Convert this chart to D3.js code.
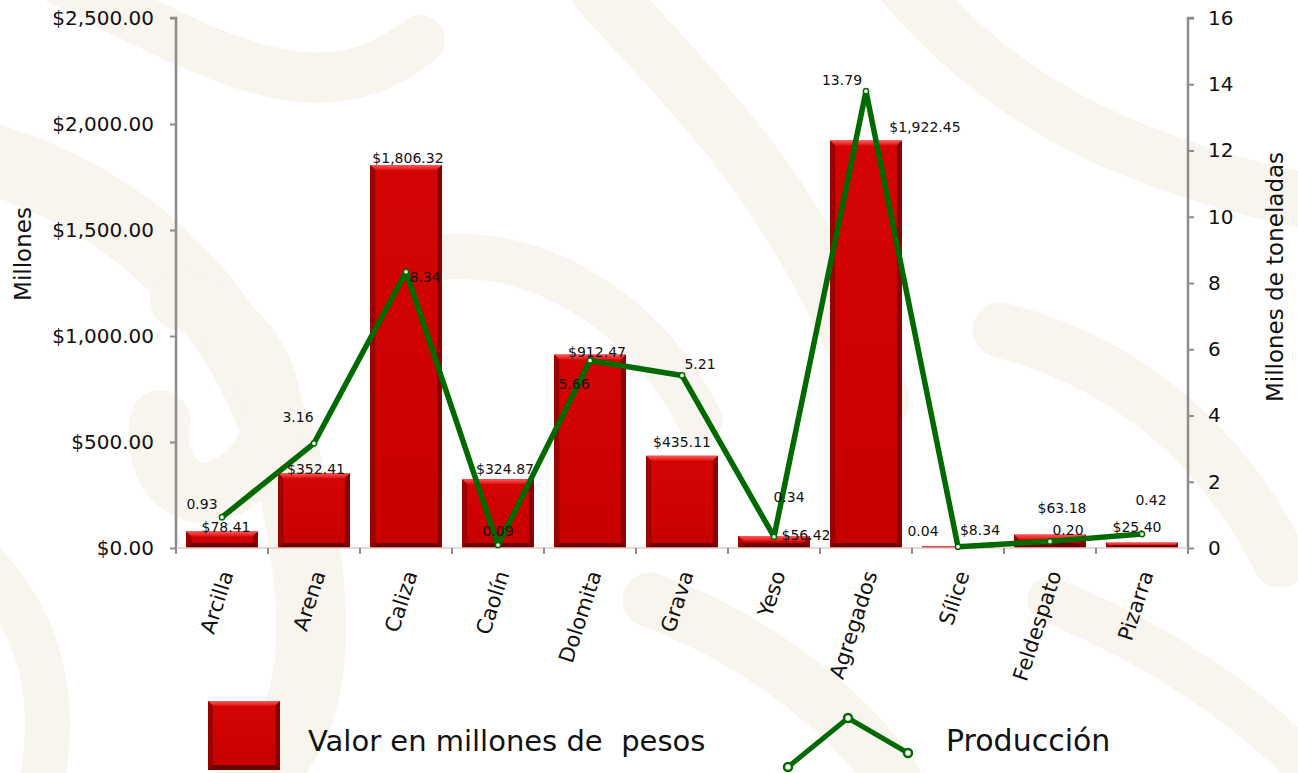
<!DOCTYPE html>
<html lang="es">
<head>
<meta charset="UTF-8">
<title>Valor y producción</title>
<style>
  * { margin: 0; padding: 0; }
  body { background: #fff; font-family: "DejaVu Sans", sans-serif; }
</style>
</head>
<body>
<div id="chart"></div>
<script src="https://cdn.jsdelivr.net/npm/d3@7"></script>
<script>
// datos
const categorias = ['Arcilla', 'Arena', 'Caliza', 'Caolín', 'Dolomita', 'Grava', 'Yeso', 'Agregados', 'Sílice', 'Feldespato', 'Pizarra']
const valor = [78.41, 352.41, 1806.32, 324.87, 912.47, 435.11, 56.42, 1922.45, 8.34, 63.18, 25.40]
const produccion = [0.93, 3.16, 8.34, 0.09, 5.66, 5.21, 0.34, 13.79, 0.04, 0.20, 0.42]
const ticksValor = [0, 500, 1000, 1500, 2000, 2500]
const ticksProd = [0, 2, 4, 6, 8, 10, 12, 14, 16]

// ajustes de etiquetas (px), como en el original
const barLabelNudge = [[4, 1], [2, 1], [2, -2], [7, -5], [7, 2], [0, -9], [32, 4], [59, -8], [22, -11], [12, -22], [-5, -11]]
const lineLabelNudge = [[-20, -8], [-16, -21], [19, 10], [0, -9], [-16, 28], [18, -6], [15, -35], [-24, -6], [-35, -11], [18, -6], [9, -29]]

const font = '"DejaVu Sans", sans-serif'
const width = 1298, height = 773
const margin = { top: 18, right: 110, bottom: 225, left: 176 }
const innerW = width - margin.left - margin.right
const innerH = height - margin.top - margin.bottom

const svg = d3.select('#chart').append('svg')
    .attr('width', width).attr('height', height)
    .style('background', '#fff')
    .style('font-family', font)

// fondo decorativo tenue
const deco = svg.append('g').attr('fill', 'none').attr('stroke', '#f8f4ee').attr('stroke-linecap', 'round')
const decoPaths = [
    ['M -40 150 C 120 190, 260 300, 300 520 S 260 760, 240 800', 70],
    ['M 60 -20 C 220 60, 320 120, 420 40', 50],
    ['M 180 300 C 260 320, 300 420, 250 470 C 200 520, 150 480, 160 420', 60],
    ['M 600 -10 C 720 120, 800 200, 880 400', 60],
    ['M 900 -20 C 1000 100, 1120 160, 1300 200', 55],
    ['M 420 260 C 520 240, 640 300, 700 420', 45],
    ['M 1000 330 C 1120 360, 1220 440, 1280 560', 55],
    ['M 650 600 C 760 640, 860 720, 900 790', 55],
    ['M -20 560 C 40 620, 60 700, 40 790', 45],
    ['M 1050 600 C 1150 640, 1240 700, 1300 760', 45]
]
deco.selectAll('path').data(decoPaths).join('path')
    .attr('d', d => d[0]).attr('stroke-width', d => d[1])

const defs = svg.append('defs')
const gTop = defs.append('linearGradient').attr('id', 'gTop').attr('x1', 0).attr('y1', 0).attr('x2', 0).attr('y2', 1)
gTop.append('stop').attr('offset', 0).attr('stop-color', '#ff5a5a')
gTop.append('stop').attr('offset', 1).attr('stop-color', '#e01010')
const gBody = defs.append('linearGradient').attr('id', 'gBody').attr('x1', 0).attr('y1', 0).attr('x2', 0).attr('y2', 1)
gBody.append('stop').attr('offset', 0).attr('stop-color', '#d40404')
gBody.append('stop').attr('offset', 1).attr('stop-color', '#c80000')

const bounds = svg.append('g').attr('transform', `translate(${margin.left}, ${margin.top})`)

const x = d3.scaleBand().domain(categorias).range([0, innerW]).paddingInner(0.22).paddingOuter(0.11)
const y = d3.scaleLinear().domain([0, 2500]).range([innerH, 0])
const y2 = d3.scaleLinear().domain([0, 16]).range([innerH, 0])

// barras con bisel
const bev = 5
function bevelBar(g, bx, by, bw, bh) {
    const b = Math.min(bev, bh / 2, bw / 2)
    g.append('rect').attr('x', bx).attr('y', by).attr('width', bw).attr('height', bh).attr('fill', 'url(#gBody)')
    if (bh < 1) return
    g.append('polygon').attr('fill', 'url(#gTop)')
        .attr('points', `${bx},${by} ${bx + bw},${by} ${bx + bw - b},${by + b} ${bx + b},${by + b}`)
    g.append('polygon').attr('fill', '#9a0000')
        .attr('points', `${bx},${by} ${bx + b},${by + b} ${bx + b},${by + bh - b} ${bx},${by + bh}`)
    g.append('polygon').attr('fill', '#8a0000')
        .attr('points', `${bx + bw},${by} ${bx + bw - b},${by + b} ${bx + bw - b},${by + bh - b} ${bx + bw},${by + bh}`)
    g.append('polygon').attr('fill', '#6a0000')
        .attr('points', `${bx},${by + bh} ${bx + b},${by + bh - b} ${bx + bw - b},${by + bh - b} ${bx + bw},${by + bh}`)
}
const barsGroup = bounds.append('g')
valor.forEach((v, i) => {
    const g = barsGroup.append('g')
    bevelBar(g, x(categorias[i]), y(v), x.bandwidth(), innerH - y(v))
})

// ejes
const axisColor = '#8c8c8c'
const yAxis = bounds.append('g').call(d3.axisLeft(y).tickValues(ticksValor).tickSize(6).tickPadding(16)
    .tickFormat(d => '$' + d3.format(',.2f')(d)))
const y2Axis = bounds.append('g').attr('transform', `translate(${innerW},0)`)
    .call(d3.axisRight(y2).tickValues(ticksProd).tickSize(6).tickPadding(14).tickFormat(d3.format('d')))
;[yAxis, y2Axis].forEach(a => {
    a.select('.domain').attr('stroke', axisColor).attr('stroke-width', 2.5)
    a.selectAll('.tick line').attr('stroke', axisColor).attr('stroke-width', 2)
    a.selectAll('.tick text').attr('fill', '#111').style('font-size', '20px').style('font-family', font)
})
yAxis.select('.domain').attr('d', `M-6,0H0V${innerH}`)
y2Axis.select('.domain').attr('d', `M6,0H0V${innerH}`)

// eje x
const xAxisG = bounds.append('g').attr('transform', `translate(0,${innerH})`)
xAxisG.append('line').attr('x1', 0).attr('x2', innerW).attr('stroke', '#e6c8c8').attr('stroke-width', 1.5)
const step = x.step()
const boundaries = d3.range(0, categorias.length + 1).map(i => x(categorias[0]) - x.paddingInner() * step / 2 + i * step)
xAxisG.selectAll('line.tk').data(boundaries).join('line').attr('class', 'tk')
    .attr('x1', d => d).attr('x2', d => d).attr('y1', 0).attr('y2', 6)
    .attr('stroke', axisColor).attr('stroke-width', 2)
xAxisG.selectAll('text.cat').data(categorias).join('text').attr('class', 'cat')
    .attr('transform', d => `translate(${x(d) + x.bandwidth() / 2 + 6},${24}) rotate(-72)`)
    .attr('text-anchor', 'end').attr('dominant-baseline', 'middle')
    .style('font-size', '21px').attr('fill', '#111')
    .text(d => d)

// etiquetas de ejes
svg.append('text').attr('transform', `translate(31,254) rotate(-90)`)
    .attr('text-anchor', 'middle').style('font-size', '23px').attr('fill', '#111').text('Millones')
svg.append('text').attr('transform', `translate(1283,277) rotate(-90)`)
    .attr('text-anchor', 'middle').style('font-size', '23px').attr('fill', '#111').text('Millones de toneladas')

// línea de producción
const lineGreen = '#006a00'
const line = d3.line().x((d, i) => x(categorias[i]) + x.bandwidth() / 2).y(d => y2(d))
bounds.append('path').datum(produccion).attr('d', line)
    .attr('fill', 'none').attr('stroke', lineGreen).attr('stroke-width', 5.5).attr('stroke-linejoin', 'round')
bounds.selectAll('circle.pt').data(produccion).join('circle').attr('class', 'pt')
    .attr('cx', (d, i) => x(categorias[i]) + x.bandwidth() / 2).attr('cy', d => y2(d))
    .attr('r', 2.6).attr('fill', '#fff').attr('stroke', lineGreen).attr('stroke-width', 1.5)

// etiquetas de datos
bounds.selectAll('text.bl').data(valor).join('text').attr('class', 'bl')
    .attr('x', (d, i) => x(categorias[i]) + x.bandwidth() / 2 + barLabelNudge[i][0])
    .attr('y', (d, i) => y(d) + barLabelNudge[i][1])
    .attr('text-anchor', 'middle').style('font-size', '14px').attr('fill', '#111')
    .text(d => '$' + d3.format(',.2f')(d))
bounds.selectAll('text.ll').data(produccion).join('text').attr('class', 'll')
    .attr('x', (d, i) => x(categorias[i]) + x.bandwidth() / 2 + lineLabelNudge[i][0])
    .attr('y', (d, i) => y2(d) + lineLabelNudge[i][1])
    .attr('text-anchor', 'middle').style('font-size', '14px').attr('fill', '#111')
    .text(d => d3.format('.2f')(d))

// leyenda
const legend = svg.append('g')
bevelBar(legend.append('g'), 208, 701, 72, 69)
legend.append('text').attr('x', 308).attr('y', 751).style('font-size', '29px').attr('fill', '#111')
    .attr('xml:space', 'preserve').style('white-space', 'pre').text('Valor en millones de  pesos')
const legPts = [[788, 767], [848, 718], [908, 753]]
legend.append('path').attr('d', d3.line()(legPts)).attr('fill', 'none')
    .attr('stroke', lineGreen).attr('stroke-width', 5)
legend.selectAll('circle').data(legPts).join('circle')
    .attr('cx', d => d[0]).attr('cy', d => d[1]).attr('r', 4)
    .attr('fill', '#fff').attr('stroke', lineGreen).attr('stroke-width', 2.5)
legend.append('text').attr('x', 946).attr('y', 751).style('font-size', '30px').attr('fill', '#111').text('Producción')
</script>
</body>
</html>
